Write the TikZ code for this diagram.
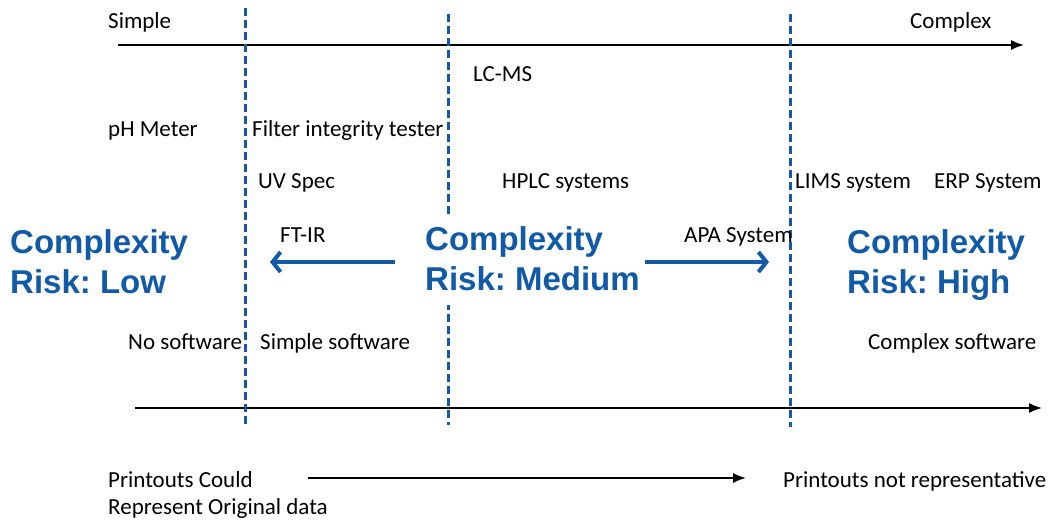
\documentclass[tikz,border=0pt]{standalone}
\usepackage{fontspec}
\setmainfont{Carlito}
\newfontfamily\riskfont{Liberation Sans}
\usetikzlibrary{arrows.meta}
\definecolor{riskblue}{RGB}{16,90,168}
\frenchspacing
\tikzset{
  lbl/.style={anchor=base west, inner sep=0pt, font=\fontsize{23}{27}\selectfont},
  risk/.style={anchor=base west, inner sep=0pt, text=riskblue,
    font=\riskfont\bfseries\fontsize{33}{40}\selectfont},
  zone/.style={riskblue, line width=3pt, dash pattern=on 8pt off 4pt},
  axis/.style={line width=1.6pt, -{Latex[length=13pt,width=10pt]}},
  riskmove/.style={riskblue, line width=4pt, -{Straight Barb[length=8pt,width=20pt,line width=4pt]}}
}
\begin{document}
\begin{tikzpicture}[x=1pt, y=-1pt]
    \useasboundingbox (0,0) rectangle (1051,521);
    % axes
    \coordinate (topL) at (118,45);
    \coordinate (topR) at (1024,45);
    \coordinate (botL) at (135,408);
    \coordinate (botR) at (1042,408);
    \draw[axis] (topL) -- (topR);
    \draw[axis] (botL) -- (botR);
    % zone borders
    \draw[zone] (245,8) -- (245,425);
    \draw[zone] (448,14) -- (448,425);
    \draw[zone] (790,14) -- (790,427);
    % ends of the scale
    \node[lbl] (simple) at (108,29) {Simple};
    \node[lbl] (complex) at (910,29) {Complex};
    % instruments
    \node[lbl] (lcms) at (473,82) {LC-MS};
    \node[lbl] (ph) at (108,137) {pH Meter};
    \node[lbl] (filter) at (252,137) {Filter integrity tester};
    \node[lbl] (uv) at (258,189) {UV Spec};
    \node[lbl] (hplc) at (502,189) {HPLC systems};
    \node[lbl] (lims) at (795,189) {LIMS system};
    \node[lbl] (erp) at (934,189) {ERP System};
    \node[lbl] (ftir) at (280,243) {FT-IR};
    \node[lbl] (apa) at (684,243) {APA System};
    % software
    \node[lbl] (nosw) at (128,349) {No software};
    \node[lbl] (simplesw) at (260,349) {Simple software};
    \node[lbl] (complexsw) at (868,349) {Complex software};
    % risk levels
    \node[risk] (lowA) at (10,253) {Complexity};
    \node[risk] (lowB) at (10,293) {Risk: Low};
    \fill[white] (420,214) rectangle (644,305);
    \node[risk] (medA) at (425,251) {Complexity};
    \node[risk] (medB) at (425,290) {Risk: Medium};
    \node[risk] (highA) at (847,253) {Complexity};
    \node[risk] (highB) at (847,293) {Risk: High};
    \coordinate (toLow) at (270,262);
    \coordinate (toHigh) at (769,262);
    \draw[riskmove] (395,262) -- (toLow);
    \draw[riskmove] (645,262) -- (toHigh);
    % printouts
    \node[lbl] (could) at (108,487) {Printouts Could};
    \node[lbl] (orig) at (108,514) {Represent Original data};
    \node[lbl] (notrep) at (783,487) {Printouts not representative};
    \coordinate (prL) at (308,478);
    \coordinate (prR) at (746,478);
    \draw[axis] (prL) -- (prR);
\end{tikzpicture}
\end{document}
